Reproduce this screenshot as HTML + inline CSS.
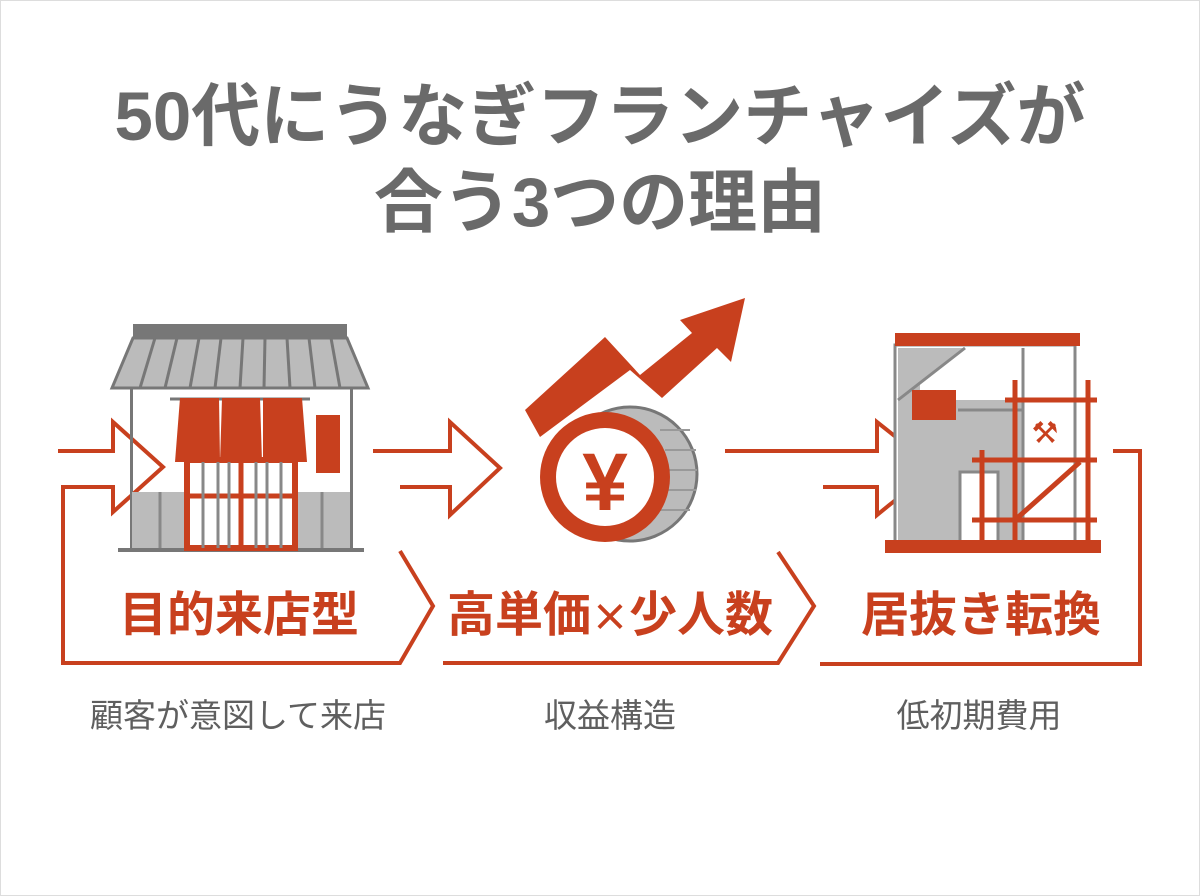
<!DOCTYPE html>
<html><head><meta charset="utf-8"><style>
html,body{margin:0;padding:0;background:#fff;}
body{width:1200px;height:896px;overflow:hidden;position:relative;font-family:"Liberation Sans","Noto Sans CJK JP",sans-serif;}
.t{position:absolute;left:0;width:1200px;text-align:center;color:#6a6a6a;font-weight:bold;font-size:69px;line-height:1;}
.l{position:absolute;color:#c8401e;font-weight:bold;font-size:48px;line-height:1;white-space:nowrap;}
.s{position:absolute;color:#5f5f5f;font-size:33px;line-height:1;white-space:nowrap;}
.j{font-family:"Noto Sans CJK JP",sans-serif;font-size:38px;}
</style></head><body>
<div style="position:absolute;inset:0;border:1px solid #ddd;box-sizing:border-box;"></div>
<div class="t" style="top:82px;">50代にうなぎフランチャイズが</div>
<div class="t" style="top:168px;">合う3つの理由</div>
<svg width="1200" height="896" style="position:absolute;left:0;top:0" xmlns="http://www.w3.org/2000/svg">
<g fill="none" stroke="#c8401e" stroke-width="4">
 <path d="M58 451 H113 V422 L163 467 L113 512 V487 H63 V663 H400 L433 606 L400 551"/>
 <path d="M373 451 H450 V422 L500 468 L450 515 V487 H400"/>
 <path d="M443 663 H778 L814 606 L778 552"/>
 <path d="M725 451 H877 V422 L935 468 L877 515 V487 H823"/>
 <path d="M1113 451 H1140 V664 H820"/>
</g>
<g>
 <rect x="133" y="324" width="214" height="14" fill="#777"/>
 <polygon points="133,338 347,338 368,388 112,388" fill="#bbb" stroke="#777" stroke-width="3"/>
 <g stroke="#777" stroke-width="3">
  <line x1="155" y1="338" x2="140" y2="388"/><line x1="177" y1="338" x2="165" y2="388"/><line x1="199" y1="338" x2="190" y2="388"/><line x1="221" y1="338" x2="215" y2="388"/><line x1="243" y1="338" x2="240" y2="388"/><line x1="265" y1="338" x2="264" y2="388"/><line x1="287" y1="338" x2="290" y2="388"/><line x1="309" y1="338" x2="315" y2="388"/><line x1="331" y1="338" x2="340" y2="388"/>
 </g>
 <rect x="130" y="388" width="3" height="160" fill="#777"/>
 <rect x="350" y="388" width="3" height="160" fill="#777"/>
 <rect x="132" y="492" width="218" height="56" fill="#bbb"/>
 <line x1="160" y1="492" x2="160" y2="548" stroke="#888" stroke-width="3"/>
 <line x1="322" y1="492" x2="322" y2="548" stroke="#888" stroke-width="3"/>
 <rect x="118" y="548" width="246" height="4" fill="#777"/>
 <line x1="170" y1="399" x2="310" y2="399" stroke="#777" stroke-width="3"/>
 <rect x="187" y="460" width="108" height="88" fill="#fff" stroke="#c8401e" stroke-width="6"/>
 <g stroke="#c8401e" stroke-width="5"><line x1="241" y1="460" x2="241" y2="548"/><line x1="187" y1="496" x2="295" y2="496"/></g>
 <g stroke="#888" stroke-width="3"><line x1="203" y1="460" x2="203" y2="548"/><line x1="218" y1="460" x2="218" y2="548"/><line x1="229" y1="460" x2="229" y2="548"/><line x1="256" y1="460" x2="256" y2="548"/><line x1="267" y1="460" x2="267" y2="548"/><line x1="281" y1="460" x2="281" y2="548"/></g>
 <polygon points="180,398 219,398 220,462 175,462" fill="#c8401e"/>
 <polygon points="222,398 260,398 262,462 220,462" fill="#c8401e"/>
 <polygon points="263,398 302,398 307,462 263,462" fill="#c8401e"/>
 <rect x="316" y="415" width="24" height="58" fill="#c8401e"/>
</g>
<polygon points="525,410 605,337 640,375 692,333 680,320 745,298 731,362 717,348 662,398 630,370 540,437" fill="#c8401e"/>
<circle cx="630" cy="474" r="67" fill="#bbb" stroke="#777" stroke-width="3"/>
<g stroke="#999" stroke-width="2"><line x1="660" y1="430" x2="690" y2="430"/><line x1="665" y1="450" x2="696" y2="450"/><line x1="665" y1="470" x2="697" y2="470"/><line x1="665" y1="490" x2="696" y2="490"/><line x1="660" y1="510" x2="690" y2="510"/></g>
<circle cx="605" cy="477" r="65" fill="#c8401e"/>
<circle cx="605" cy="477" r="49" fill="#fff"/>
<text x="605" y="510" text-anchor="middle" font-family="Liberation Sans, sans-serif" font-weight="bold" font-size="82" fill="#c8401e">¥</text>
<g>
 <rect x="895" y="345" width="180" height="200" fill="#fff" stroke="#888" stroke-width="3"/>
 <polygon points="898,348 965,348 898,400" fill="#bbb"/>
 <rect x="898" y="400" width="125" height="143" fill="#bbb"/>
 <rect x="898" y="348" width="22" height="195" fill="#bbb"/>
 <line x1="898" y1="400" x2="965" y2="348" stroke="#888" stroke-width="3"/>
 <line x1="958" y1="410" x2="1023" y2="410" stroke="#888" stroke-width="3"/>
 <line x1="1023" y1="348" x2="1023" y2="545" stroke="#888" stroke-width="3"/>
 <rect x="960" y="472" width="38" height="70" fill="#fff" stroke="#888" stroke-width="3"/>
 <rect x="912" y="390" width="44" height="30" fill="#c8401e"/>
 <rect x="895" y="333" width="185" height="13" fill="#c8401e"/>
 <rect x="885" y="540" width="216" height="13" fill="#c8401e"/>
 <g stroke="#c8401e" stroke-width="5">
  <line x1="1015" y1="380" x2="1015" y2="540"/><line x1="1088" y1="380" x2="1088" y2="540"/>
  <line x1="982" y1="450" x2="982" y2="540"/><line x1="1005" y1="400" x2="1097" y2="400"/>
  <line x1="972" y1="460" x2="1097" y2="460"/><line x1="972" y1="520" x2="1097" y2="520"/>
  <line x1="1015" y1="520" x2="1080" y2="462"/>
 </g>
 <text x="1045" y="443" text-anchor="middle" font-size="30" fill="#c8401e" font-family="DejaVu Sans, sans-serif">⚒</text>
</g>
</svg>
<div class="l" style="left:119px;top:592px;">目的来店型</div>
<div class="l" style="left:447px;top:592px;">高単価<span class="j">×</span>少人数</div>
<div class="l" style="left:861px;top:592px;">居抜き転換</div>
<div class="s" style="left:0;width:476px;text-align:center;top:699px;">顧客が意図して来店</div>
<div class="s" style="left:410px;width:400px;text-align:center;top:699px;">収益構造</div>
<div class="s" style="left:779px;width:400px;text-align:center;top:699px;">低初期費用</div>
</body></html>
